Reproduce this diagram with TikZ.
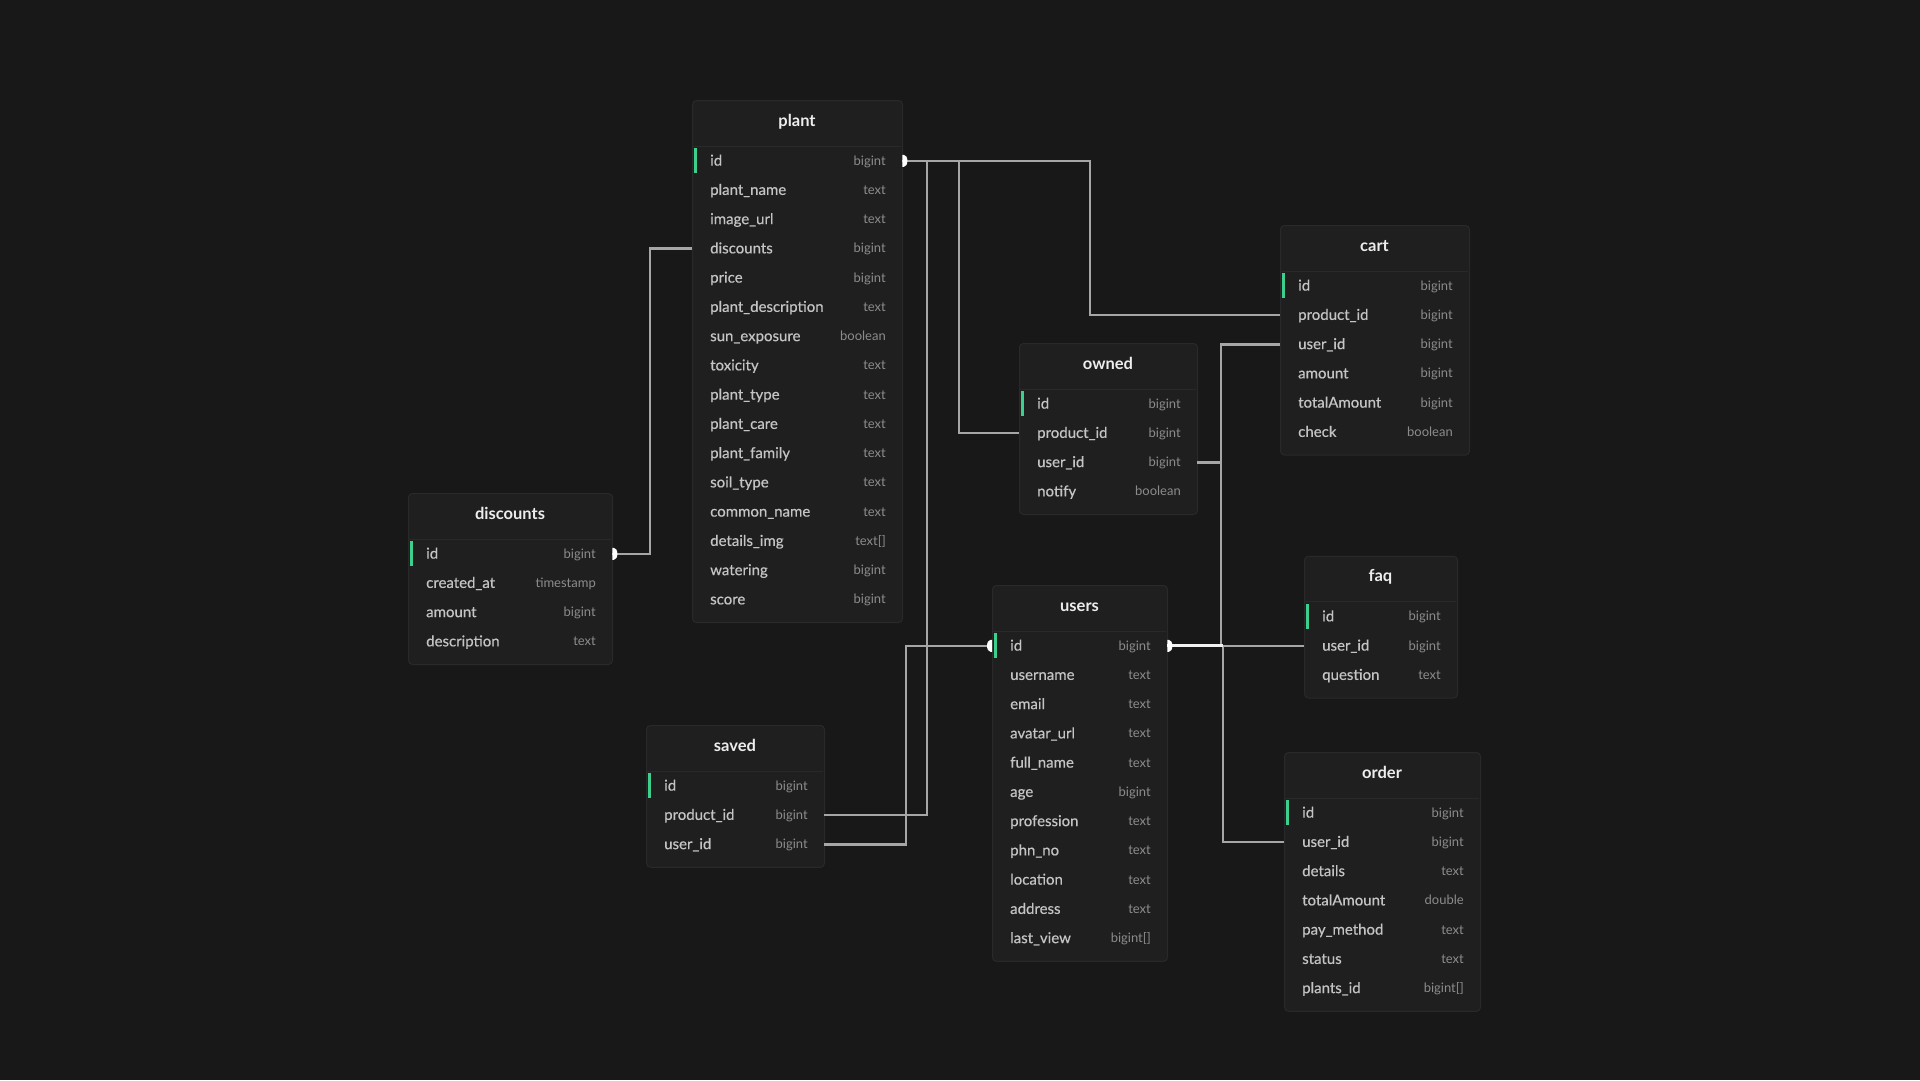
\documentclass[tikz,border=0pt]{standalone}
\usepackage{fontspec}
\setmainfont{Lato}
\newfontfamily\namefont[FakeBold=0.45]{Lato}
\usetikzlibrary{calc}
\definecolor{bg}{HTML}{181818}
\definecolor{boxfill}{HTML}{1F1F1F}
\definecolor{boxline}{HTML}{292929}
\definecolor{accent}{HTML}{3ECF8E}
\definecolor{titlec}{HTML}{EDEDED}
\definecolor{namec}{HTML}{C4C4C4}
\definecolor{typec}{HTML}{8C8C8C}
\definecolor{linkc}{HTML}{A6A6A6}
\definecolor{linkhi}{HTML}{F2F2F2}
\tikzset{
  tablebox/.style={draw=boxline, fill=boxfill, line width=1pt, rounded corners=4pt, inner sep=0pt},
  rowbox/.style={draw=none, inner sep=0pt, minimum height=29.25pt},
  tabletitle/.style={text=titlec, font=\fontsize{16.5}{19}\selectfont\bfseries, inner sep=0pt},
  fieldname/.style={text=namec, font=\fontsize{15}{17}\namefont, inner sep=0pt},
  fieldtype/.style={text=typec, font=\fontsize{13}{15}\selectfont, inner sep=0pt},
  link/.style={draw=linkc, line width=2.4pt},
  linkbright/.style={draw=linkhi, line width=2.8pt},
  onemark/.style={fill=white},
}
\newcommand\erTable[7]{%
  \node[tablebox, minimum width=#4pt, minimum height={(54+#6*29.25)*1pt}, anchor=north west] (#1) at ({#2},{#3}) {};
  \draw[boxline, line width=1pt] ({#2+1},{#3+46}) -- ({#2+#4-1},{#3+46});
  \node[tabletitle, anchor=base] (#1-title) at ({#2+#4/2},{#3+26}) {#5};
  \fill[accent] ({#2+1.5},{#3+48}) rectangle ({#2+4.5},{#3+46+29.25-2});
  \foreach \fn/\ft [count=\i] in {#7} {
    \node[rowbox, minimum width=#4pt, anchor=north west] (#1-r\i) at ({#2},{#3+46+(\i-1)*29.25}) {};
    \node[fieldname, anchor=base west] (#1-n\i) at ({#2+18},{#3+46+(\i-0.5)*29.25+5}) {\fn};
    \node[fieldtype, anchor=base east] (#1-t\i) at ({#2+#4-16},{#3+46+(\i-0.5)*29.25+4.5}) {\ft};
  }%
}
\begin{document}
\begin{tikzpicture}[x=1pt,y=-1pt]
\fill[bg] (0,0) rectangle (1920,1080);
\useasboundingbox (0,0) rectangle (1920,1080);

\erTable{plant}{692}{100}{210}{plant}{16}{id/bigint, plant\_name/text, image\_url/text, discounts/bigint, price/bigint, plant\_description/text, sun\_exposure/boolean, toxicity/text, plant\_type/text, plant\_care/text, plant\_family/text, soil\_type/text, common\_name/text, details\_img/text[], watering/bigint, score/bigint}
\erTable{discounts}{408}{493}{204}{discounts}{4}{id/bigint, created\_at/timestamp, amount/bigint, description/text}
\erTable{saved}{646}{725}{178}{saved}{3}{id/bigint, product\_id/bigint, user\_id/bigint}
\erTable{users}{992}{585}{175}{users}{11}{id/bigint, username/text, email/text, avatar\_url/text, full\_name/text, age/bigint, profession/text, phn\_no/text, location/text, address/text, last\_view/bigint[]}
\erTable{owned}{1019}{343}{178}{owned}{4}{id/bigint, product\_id/bigint, user\_id/bigint, notify/boolean}
\erTable{cart}{1280}{225}{189}{cart}{6}{id/bigint, product\_id/bigint, user\_id/bigint, amount/bigint, totalAmount/bigint, check/boolean}
\erTable{faq}{1304}{555.75}{153}{faq}{3}{id/bigint, user\_id/bigint, question/text}
\erTable{order}{1284}{752}{196}{order}{7}{id/bigint, user\_id/bigint, details/text, totalAmount/double, pay\_method/text, status/text, plants\_id/bigint[]}

% bend columns
\coordinate (xcart) at (1090,0);
\coordinate (xowned) at (959,0);
\coordinate (xsaved) at (927,0);
\coordinate (xdisc) at (650,0);
\coordinate (xsu) at (906,0);
\coordinate (xu1) at (1221,0);
\coordinate (xu2) at (1223,0);

% plant.id relations
\draw[link] (plant-r1.east) -- (plant-r1.east -| xcart) -- (cart-r2.west -| xcart) -- (cart-r2.west);
\draw[link] (plant-r1.east) -- (plant-r1.east -| xowned) -- (owned-r2.west -| xowned) -- (owned-r2.west);
\draw[link] (plant-r1.east) -- (plant-r1.east -| xsaved) -- (saved-r2.east -| xsaved) -- (saved-r2.east);
% discounts.id
\draw[link] (plant-r4.west) -- (plant-r4.west -| xdisc) -- (discounts-r1.east -| xdisc) -- (discounts-r1.east);
% users.id relations
\draw[link] (saved-r3.east) -- (saved-r3.east -| xsu) -- (users-r1.west -| xsu) -- (users-r1.west);
\draw[link] (users-r1.east -| xu1) -- (cart-r3.west -| xu1) -- (cart-r3.west);
\draw[link] (users-r1.east -| xu1) -- (owned-r3.east -| xu1) -- (owned-r3.east);
\draw[link] (users-r1.east -| xu1) -- (faq-r2.west);
\draw[link] (users-r1.east -| xu2) -- (order-r2.west -| xu2) -- (order-r2.west);
\draw[linkbright] (users-r1.east) -- (users-r1.east -| xu2);

% one-side markers
\fill[onemark] (plant-r1.east) ++(0,-6) -- ++(1.5,0) arc[start angle=-90, end angle=90, x radius=3.5, y radius=6] -- ++(-1.5,0) -- cycle;
\fill[onemark] (discounts-r1.east) ++(0,-6) -- ++(1.5,0) arc[start angle=-90, end angle=90, x radius=3.5, y radius=6] -- ++(-1.5,0) -- cycle;
\fill[onemark] (users-r1.east) ++(0,-6) -- ++(1.5,0) arc[start angle=-90, end angle=90, x radius=3.5, y radius=6] -- ++(-1.5,0) -- cycle;
\fill[onemark] (users-r1.west) ++(0,-6) -- ++(-1.5,0) arc[start angle=-90, end angle=-270, x radius=3.5, y radius=6] -- ++(1.5,0) -- cycle;
\end{tikzpicture}
\end{document}
